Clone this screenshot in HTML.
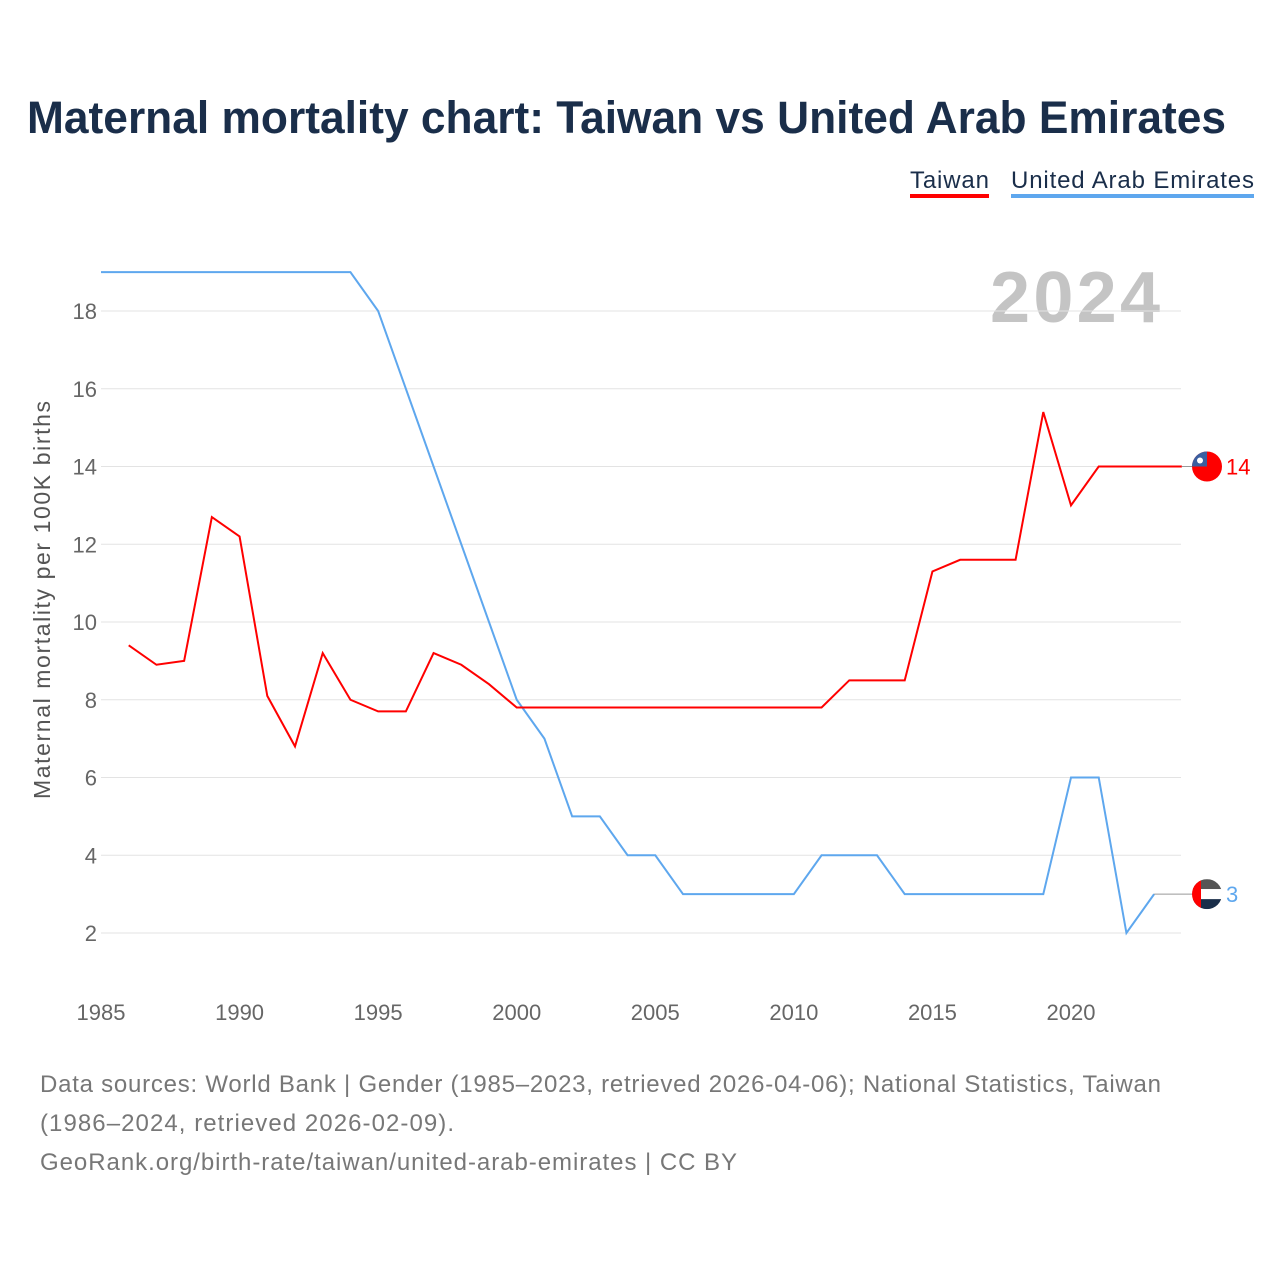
<!DOCTYPE html>
<html><head><meta charset="utf-8"><style>
body{margin:0;background:#fff;width:1280px;height:1280px;overflow:hidden;font-family:"Liberation Sans",sans-serif}
</style></head><body>
<svg width="1280" height="1280" xmlns="http://www.w3.org/2000/svg">
<text x="27" y="133" font-size="45" font-weight="bold" fill="#1a2e4a" textLength="1199" lengthAdjust="spacingAndGlyphs">Maternal mortality chart: Taiwan vs United Arab Emirates</text>
<g>
<text x="910" y="188" font-size="24" fill="#1a2e4a" textLength="79">Taiwan</text>
<rect x="910" y="194" width="79" height="4" fill="#ff0000"/>
<text x="1011" y="188" font-size="24" fill="#1a2e4a" textLength="243">United Arab Emirates</text>
<rect x="1011" y="194" width="243" height="4" fill="#5ea7ee"/>
</g>
<text x="1160" y="322" font-size="72" font-weight="bold" fill="#c4c4c4" text-anchor="end" textLength="170">2024</text>
<g id="grid"></g><g id="xt"></g>
<text transform="translate(50,600) rotate(-90)" font-size="23" fill="#555" text-anchor="middle" textLength="398">Maternal mortality per 100K births</text>
<g id="lines"></g>
<text x="40" y="1092" font-size="24" fill="#777" textLength="1121">Data sources: World Bank | Gender (1985–2023, retrieved 2026-04-06); National Statistics, Taiwan</text>
<text x="40" y="1131" font-size="24" fill="#777" textLength="414">(1986–2024, retrieved 2026-02-09).</text>
<text x="40" y="1170" font-size="24" fill="#777" textLength="697">GeoRank.org/birth-rate/taiwan/united-arab-emirates | CC BY</text>
</svg>
<script>
const yTicks=[2,4,6,8,10,12,14,16,18];
const xTicks=[1985,1990,1995,2000,2005,2010,2015,2020];
const twYears=[1986,1987,1988,1989,1990,1991,1992,1993,1994,1995,1996,1997,1998,1999,2000,2001,2002,2003,2004,2005,2006,2007,2008,2009,2010,2011,2012,2013,2014,2015,2016,2017,2018,2019,2020,2021,2022,2023,2024];
const twVals=[9.4,8.9,9.0,12.7,12.2,8.1,6.8,9.2,8.0,7.7,7.7,9.2,8.9,8.4,7.8,7.8,7.8,7.8,7.8,7.8,7.8,7.8,7.8,7.8,7.8,7.8,8.5,8.5,8.5,11.3,11.6,11.6,11.6,15.4,13.0,14,14,14,14];
const aeYears=[1985,1986,1987,1988,1989,1990,1991,1992,1993,1994,1995,1996,1997,1998,1999,2000,2001,2002,2003,2004,2005,2006,2007,2008,2009,2010,2011,2012,2013,2014,2015,2016,2017,2018,2019,2020,2021,2022,2023];
const aeVals=[19,19,19,19,19,19,19,19,19,19,18,16,14,12,10,8,7,5,5,4,4,3,3,3,3,3,4,4,4,3,3,3,3,3,3,6,6,2,3];
const NS="http://www.w3.org/2000/svg";
const X=y=>101+(y-1985)*970/35, Y=v=>933-(v-2)*622/16;
function mk(t,a,p){const e=document.createElementNS(NS,t);for(const k in a)e.setAttribute(k,a[k]);p.appendChild(e);return e;}
const g=document.getElementById('grid'),xt=document.getElementById('xt'),L=document.getElementById('lines');
yTicks.forEach(v=>{
const l=mk('line',{x1:101,x2:1181,y1:Y(v),y2:Y(v),stroke:'#e3e3e3'},g);


const t=mk('text',{x:97,y:Y(v)+8,'font-size':22,fill:'#666','text-anchor':'end'},g);t.textContent=v;


});
xTicks.forEach(v=>{
const t=mk('text',{x:X(v),y:1020,'font-size':22,fill:'#666','text-anchor':'middle'},xt);t.textContent=v;


});
function line(ys,vs,c,n){
const p=mk('polyline',{points:ys.map((y,i)=>X(y)+','+Y(vs[i])).join(' '),fill:'none',stroke:c,'stroke-width':2},L);


}
line(aeYears,aeVals,'#5ea7ee','uae-line');
line(twYears,twVals,'#ff0000','taiwan-line');
const fx=1207;
const aeLast=aeVals[aeVals.length-1], twLast=twVals[twVals.length-1];
mk('line',{x1:X(aeYears[aeYears.length-1]),x2:fx-14,y1:Y(aeLast),y2:Y(aeLast),stroke:'#999'},L);
mk('line',{x1:X(twYears[twYears.length-1]),x2:fx-14,y1:Y(twLast),y2:Y(twLast),stroke:'#999'},L);
const tf=mk('g',{},L);


mk('circle',{cx:fx,cy:Y(twLast),r:15,fill:'#fe0000'},tf);
mk('path',{d:`M${fx-15},${Y(twLast)} A15,15 0 0 1 ${fx},${Y(twLast)-15} L${fx},${Y(twLast)} Z`,fill:'#3a5fa0'},tf);
mk('circle',{cx:fx-7,cy:Y(twLast)-6,r:3,fill:'#fff'},tf);
const tl=mk('text',{x:fx+19,y:Y(twLast)+8,'font-size':22,fill:'#ff0000'},L);tl.textContent=twLast;


const af=mk('g',{},L);


const cy=Y(aeLast);
mk('clipPath',{id:'cp'},af);
mk('circle',{cx:fx,cy:cy,r:15},document.getElementById('cp'));
const ag=mk('g',{'clip-path':'url(#cp)'},af);
mk('rect',{x:fx-15,y:cy-15,width:30,height:10,fill:'#555'},ag);
mk('rect',{x:fx-15,y:cy-5,width:30,height:10,fill:'#fff'},ag);
mk('rect',{x:fx-15,y:cy+5,width:30,height:10,fill:'#1a2e4a'},ag);
mk('rect',{x:fx-15,y:cy-15,width:9,height:30,fill:'#f00'},ag);
const al=mk('text',{x:fx+19,y:cy+8,'font-size':22,fill:'#5ea7ee'},L);al.textContent=aeLast;


</script>
</body></html>
